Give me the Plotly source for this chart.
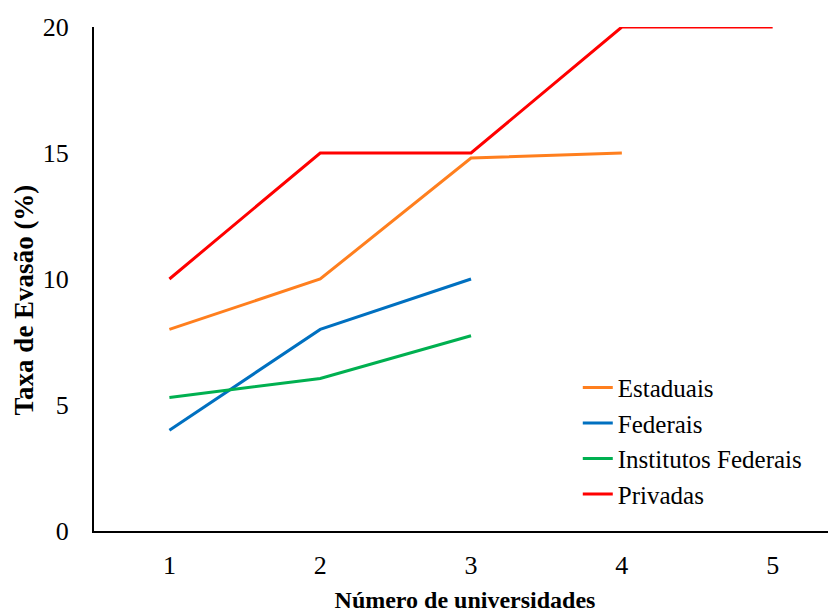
import plotly.graph_objects as go

x_vals = [1, 2, 3, 4, 5]
estaduais = [8, 10, 14.8, 15]
federais = [4, 8, 10]
institutos = [5.3, 6.05, 7.75]
privadas = [10, 15, 15, 20, 20]

series = [
    ("Estaduais", estaduais, "#FF7F1E"),
    ("Federais", federais, "#0070C0"),
    ("Institutos Federais", institutos, "#00B050"),
    ("Privadas", privadas, "#FF0000"),
]

fig = go.Figure()
for name, vals, color in series:
    fig.add_trace(go.Scatter(x=x_vals[:len(vals)], y=vals, mode="lines", name=name,
                             line=dict(color=color, width=3)))

font_family = "Liberation Serif, Times New Roman, serif"
fig.update_layout(
    width=828, height=605,
    margin=dict(l=86, r=0, t=19, b=82, autoexpand=False),
    plot_bgcolor="white", paper_bgcolor="white",
    font=dict(family=font_family, color="black", size=24),
    showlegend=True,
    legend=dict(x=0.652, y=0.33, xanchor="left", yanchor="top",
                font=dict(family=font_family, size=25, color="black"),
                bgcolor="rgba(0,0,0,0)", tracegroupgap=0, itemwidth=30),
    xaxis=dict(range=[0.5, 5.42], tickvals=[1, 2, 3, 4, 5], showline=True,
               linecolor="black", linewidth=2, showgrid=False, zeroline=False,
               ticks="", tickfont=dict(size=26), ticklabelstandoff=10, automargin=False,
               title=dict(text="<b>Número de universidades</b>", font=dict(size=24), standoff=14)),
    yaxis=dict(range=[0, 20], tickvals=[0, 5, 10, 15, 20], showline=True,
               linecolor="black", linewidth=2, showgrid=False, zeroline=False,
               ticks="", tickfont=dict(size=26), ticklabelstandoff=18, automargin=False),
)
fig.add_annotation(text="<b>Taxa de Evasão (%)</b>", textangle=-90,
                   xref="paper", yref="paper", x=-0.094, y=0.458,
                   xanchor="center", yanchor="middle", showarrow=False,
                   font=dict(family=font_family, size=27, color="black"))

fig.write_html("out.html")
